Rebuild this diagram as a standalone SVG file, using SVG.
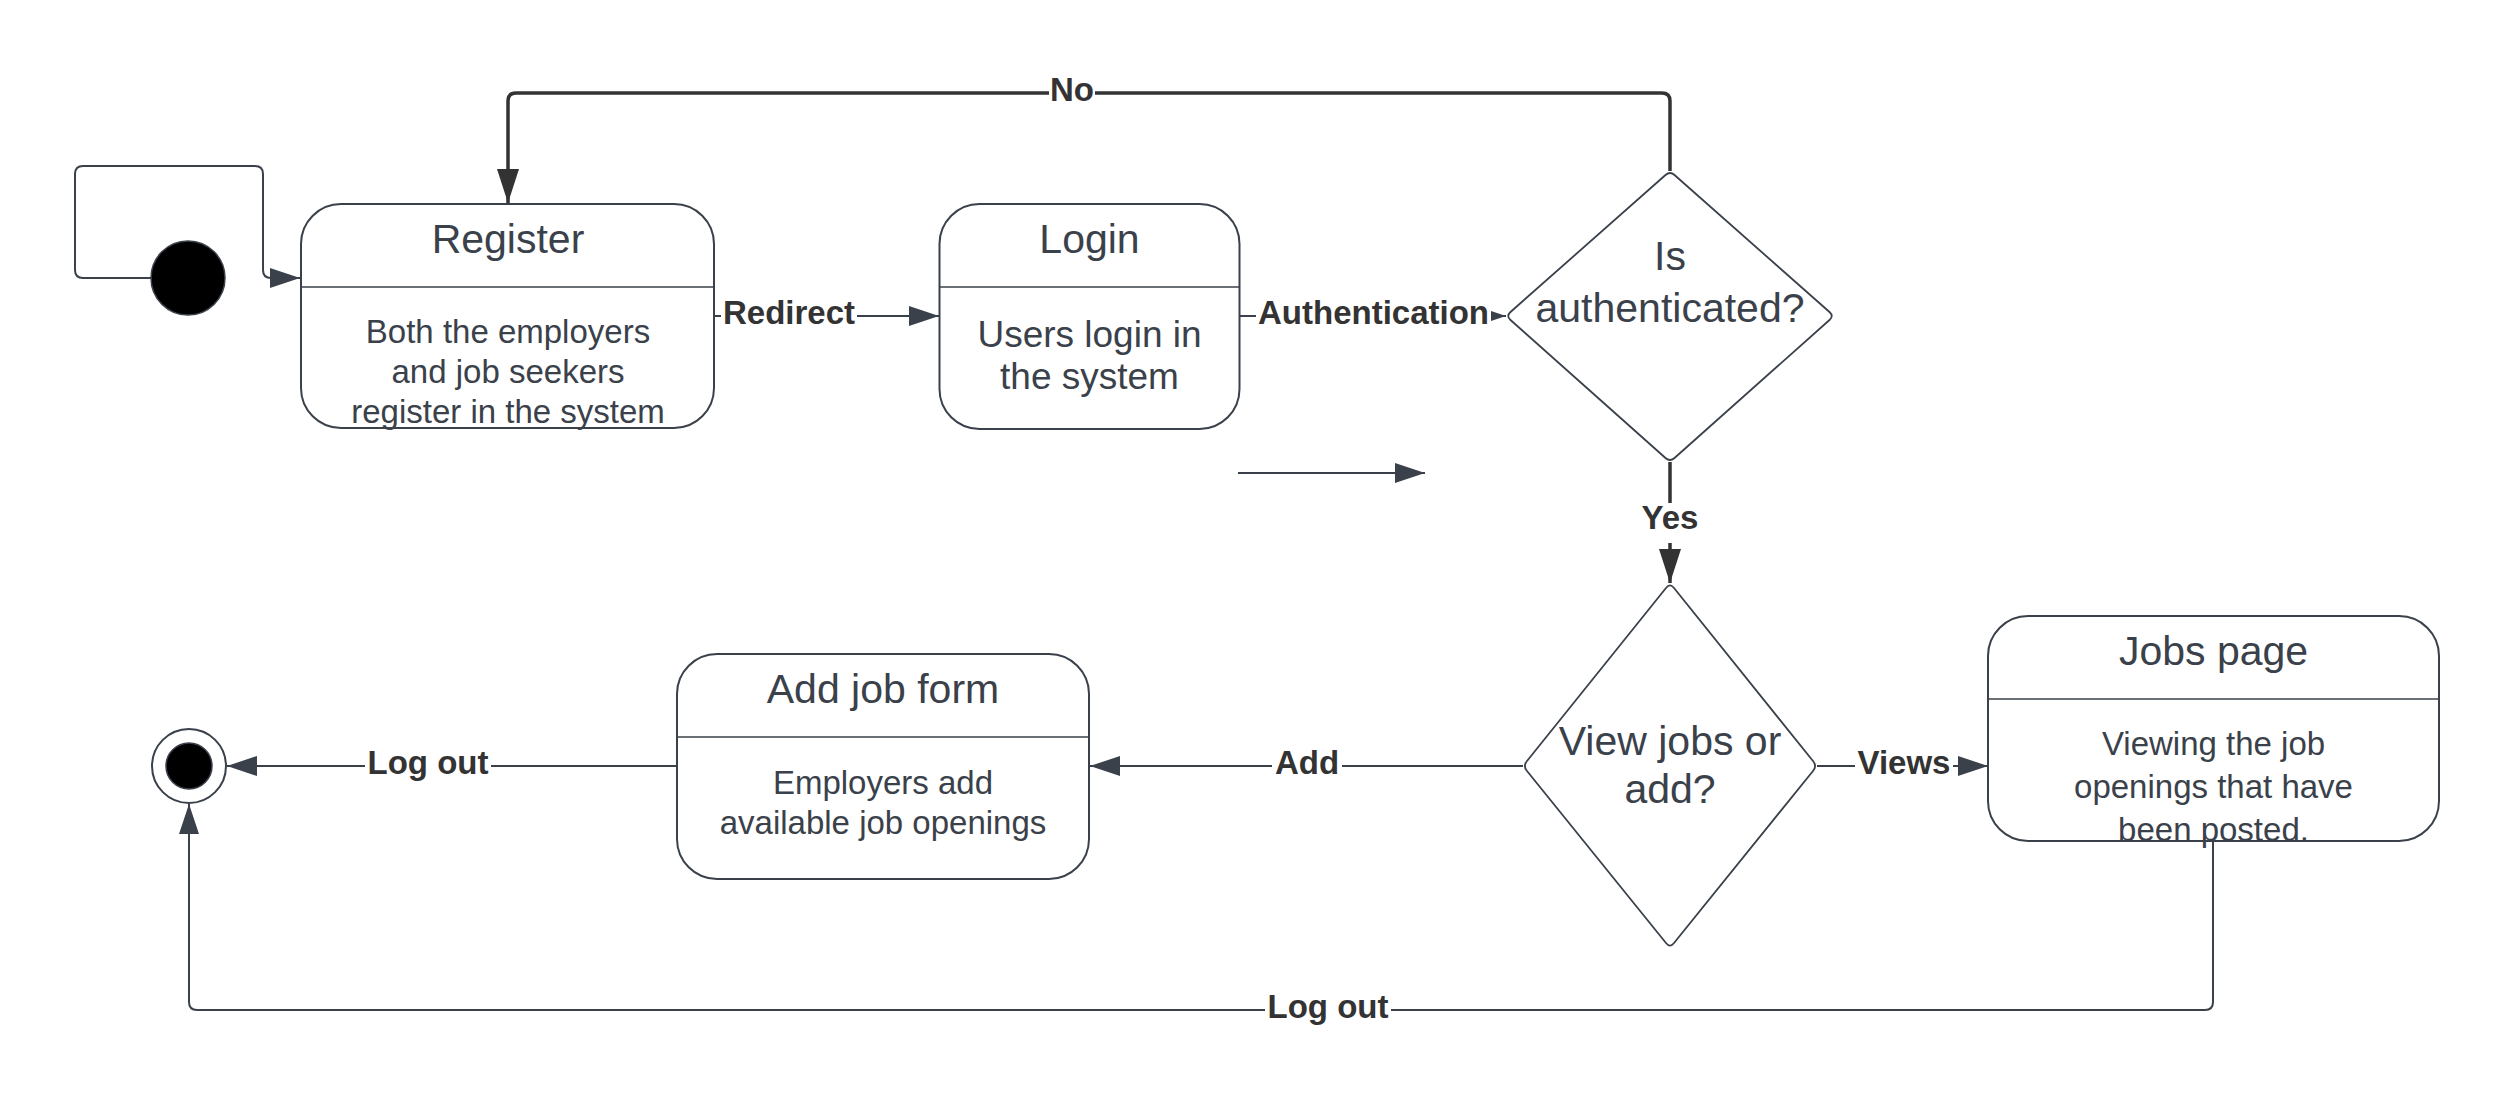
<svg xmlns="http://www.w3.org/2000/svg" width="2514" height="1106" viewBox="0 0 2514 1106">
<defs>
<style>
.node{fill:#fff;stroke:#3a414a;stroke-width:2}
.dia{fill:#fff;stroke:#3a414a;stroke-width:1.8}
.div{stroke:#3a414a;stroke-width:1.5}
.title{font-family:'Liberation Sans',Arial,sans-serif;font-size:41px;fill:#3a414a;text-anchor:middle}
.body{font-family:'Liberation Sans',Arial,sans-serif;font-size:33px;fill:#3a414a;text-anchor:middle}
.lbody{font-family:'Liberation Sans',Arial,sans-serif;font-size:37px;fill:#3a414a;text-anchor:middle}
.edge{fill:none;stroke:#3a414a;stroke-width:2}
.strong{fill:none;stroke:#333333;stroke-width:3.5}
.lbl{font-family:'Liberation Sans',Arial,sans-serif;font-size:33px;font-weight:bold;fill:#333333;text-anchor:middle}
.bg{fill:#fff}
</style>
<marker id="arr" viewBox="0 0 30 20" refX="30" refY="10" markerWidth="30" markerHeight="20" markerUnits="userSpaceOnUse" orient="auto">
<path d="M0,0 L30,10 L0,20 Z" fill="#3a414a"/>
</marker>
<marker id="arrDark" viewBox="0 0 34 22" refX="34" refY="11" markerWidth="34" markerHeight="22" markerUnits="userSpaceOnUse" orient="auto">
<path d="M0,0 L34,11 L0,22 Z" fill="#333333"/>
</marker>
</defs>
<rect width="2514" height="1106" fill="#fff"/>

<g id="connectors">
<g id="e-init-register">
<path class="edge" d="M151,278 H83 Q75,278 75,270 V174 Q75,166 83,166 H255 Q263,166 263,174 V270 Q263,278 271,278 H300" marker-end="url(#arr)"/>
</g>
<g id="e-no">
<path class="strong" d="M1670,171 V101 Q1670,93 1662,93 H516 Q508,93 508,101 V203" marker-end="url(#arrDark)"/>
<rect class="bg" x="1049" y="77" width="46" height="32"/>
<text class="lbl" x="1072" y="101">No</text>
</g>
<g id="e-redirect">
<path class="edge" d="M714,316 H939" marker-end="url(#arr)"/>
<rect class="bg" x="721" y="299" width="136" height="34"/>
<text class="lbl" x="789" y="324">Redirect</text>
</g>
<g id="e-auth">
<path class="edge" d="M1239,316 H1506" marker-end="url(#arr)"/>
<rect class="bg" x="1256" y="299" width="235" height="34"/>
<text class="lbl" x="1373.5" y="324">Authentication</text>
</g>
<g id="e-yes">
<path class="strong" d="M1670,462 V583" marker-end="url(#arrDark)"/>
<rect class="bg" x="1638" y="503" width="64" height="40"/>
<text class="lbl" x="1670" y="529">Yes</text>
</g>
<g id="e-views">
<path class="edge" d="M1817,766 H1988" marker-end="url(#arr)"/>
<rect class="bg" x="1855" y="749" width="98" height="34"/>
<text class="lbl" x="1904" y="774">Views</text>
</g>
<g id="e-add">
<path class="edge" d="M1523,766 H1090" marker-end="url(#arr)"/>
<rect class="bg" x="1272" y="749" width="70" height="34"/>
<text class="lbl" x="1307" y="774">Add</text>
</g>
<g id="e-logout1">
<path class="edge" d="M677,766 H227" marker-end="url(#arr)"/>
<rect class="bg" x="365" y="749" width="126" height="34"/>
<text class="lbl" x="428" y="774">Log out</text>
</g>
<g id="e-logout2">
<path class="edge" d="M2213,841 V1002 Q2213,1010 2205,1010 H197 Q189,1010 189,1002 V804" marker-end="url(#arr)"/>
<rect class="bg" x="1265" y="993" width="126" height="34"/>
<text class="lbl" x="1328" y="1018">Log out</text>
</g>
<g id="e-stray">
<path class="edge" d="M1238,473 H1425" marker-end="url(#arr)"/>
</g>
</g>

<g id="initial">
<circle cx="188" cy="278" r="37" fill="#000" stroke="#3a414a" stroke-width="1.5"/>
</g>

<g id="register">
<rect class="node" x="301" y="204" width="413" height="224" rx="40"/>
<line class="div" x1="301" y1="287" x2="714" y2="287"/>
<text class="title" x="508" y="253">Register</text>
<text class="body" x="508" y="343">Both the employers</text>
<text class="body" x="508" y="383">and job seekers</text>
<text class="body" x="508" y="423">register in the system</text>
</g>

<g id="login">
<rect class="node" x="939.5" y="204" width="300" height="225" rx="40"/>
<line class="div" x1="939.5" y1="287" x2="1239.5" y2="287"/>
<text class="title" x="1089.5" y="253">Login</text>
<text class="lbody" x="1089.5" y="347">Users login in</text>
<text class="lbody" x="1089.5" y="389">the system</text>
</g>

<g id="is-authenticated">
<path class="dia" d="M1674.5,175 L1829.5,312 Q1834,316 1829.5,320 L1674.5,458 Q1670,462 1665.5,458 L1510.5,320 Q1506,316 1510.5,312 L1665.5,175 Q1670,171 1674.5,175 Z"/>
<text class="title" x="1670" y="270">Is</text>
<text class="title" x="1670" y="322">authenticated?</text>
</g>

<g id="view-or-add">
<path class="dia" d="M1673.8,587.7 L1813.2,761.3 Q1817,766 1813.2,770.7 L1673.8,943.3 Q1670,948 1666.2,943.3 L1526.8,770.7 Q1523,766 1526.8,761.3 L1666.2,587.7 Q1670,583 1673.8,587.7 Z"/>
<text class="title" x="1670" y="755">View jobs or</text>
<text class="title" x="1670" y="803">add?</text>
</g>

<g id="jobs-page">
<rect class="node" x="1988" y="616" width="451" height="225" rx="40"/>
<line class="div" x1="1988" y1="699" x2="2439" y2="699"/>
<text class="title" x="2213.5" y="665">Jobs page</text>
<text class="body" x="2213.5" y="755">Viewing the job</text>
<text class="body" x="2213.5" y="798">openings that have</text>
<text class="body" x="2213.5" y="841">been posted.</text>
</g>

<g id="add-job-form">
<rect class="node" x="677" y="654" width="412" height="225" rx="40"/>
<line class="div" x1="677" y1="737" x2="1089" y2="737"/>
<text class="title" x="883" y="703">Add job form</text>
<text class="body" x="883" y="794">Employers add</text>
<text class="body" x="883" y="834">available job openings</text>
</g>

<g id="final">
<circle cx="189" cy="766" r="37" fill="#fff" stroke="#3a414a" stroke-width="2"/>
<circle cx="189" cy="766" r="23" fill="#000" stroke="#3a414a" stroke-width="1.5"/>
</g>
</svg>
